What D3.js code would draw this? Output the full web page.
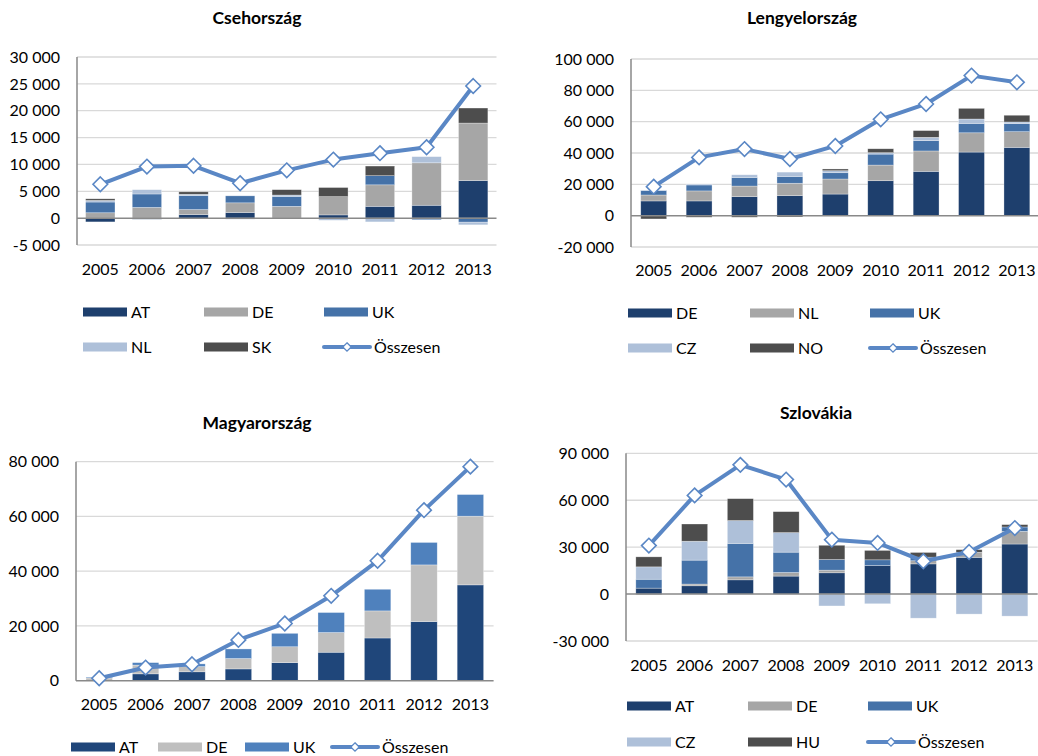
<!DOCTYPE html>
<html>
<head>
<meta charset="utf-8">
<script src="https://cdn.jsdelivr.net/npm/d3@7"></script>
<style>
  body { margin: 0; background: #fff; }
  svg text { font-family: Lato, "Noto Sans", sans-serif; fill: #000; }
</style>
</head>
<body>
<svg id="chart" width="1038" height="756"></svg>
<script>
// évek
const years = ["2005", "2006", "2007", "2008", "2009", "2010", "2011", "2012", "2013"];

// Csehország
const czKeys = ["AT", "DE", "UK", "NL", "SK"];
const czAT = [-700, -200, 650, 1050, 0, 600, 2200, 2400, 7000];
const czDE = [1000, 2000, 950, 1800, 2200, 3400, 4000, 7900, 10700];
const czUK = [2000, 2500, 2600, 1300, 1850, 0, 1700, -300, -750];
const czNL = [300, 800, 250, -200, 250, -400, -700, 1150, -500];
const czSK = [300, 0, 450, 0, 1000, 1700, 1800, 0, 2800];
const czTotal = [6300, 9600, 9750, 6500, 8900, 10900, 12100, 13200, 24600];
const czTicks = [-5000, 0, 5000, 10000, 15000, 20000, 25000, 30000];

// Lengyelország
const plKeys = ["DE", "NL", "UK", "CZ", "NO"];
const plDE = [9400, 9400, 12100, 12800, 13800, 22300, 28300, 40600, 43600];
const plNL = [3800, 6400, 6800, 7900, 9600, 10000, 13000, 12300, 10000];
const plUK = [2800, 3800, 5500, 4300, 4000, 7000, 6600, 6000, 5100];
const plCZ = [400, 600, 1700, 2800, 1300, 900, 2100, 2800, 1100];
const plNO = [-2100, -1000, -1000, -800, 1100, 2500, 4300, 6800, 4300];
const plTotal = [18500, 37200, 42500, 36200, 44500, 61500, 71300, 89400, 85100];
const plTicks = [-20000, 0, 20000, 40000, 60000, 80000, 100000];

// Magyarország
const huKeys = ["AT", "DE", "UK"];
const huAT = [0, 2500, 3250, 4300, 6600, 10400, 15600, 21600, 35000];
const huDE = [1000, 3200, 1900, 3800, 5800, 7200, 9900, 20700, 25100];
const huUK = [300, 900, 1000, 3500, 4900, 7300, 7900, 8200, 7900];
const huTotal = [900, 4800, 6000, 14900, 20900, 31000, 43800, 62300, 78200];
const huTicks = [0, 20000, 40000, 60000, 80000];

// Szlovákia
const skKeys = ["AT", "DE", "UK", "CZ", "HU"];
const skAT = [3800, 5300, 9100, 11500, 13600, 18300, 19300, 23500, 32000];
const skDE = [-600, 1100, 1900, 2300, 1700, 0, 2000, 3200, 8100];
const skUK = [5700, 15300, 21400, 13000, 6800, 3600, 2300, 0, 2800];
const skCZ = [7900, 12100, 14600, 12500, -7600, -6200, -15400, -12800, -14100];
const skHU = [6400, 11000, 14000, 13400, 9100, 6000, 3000, 1700, 1500];
const skTotal = [31000, 63100, 82600, 73200, 34800, 32700, 21000, 26900, 42200];
const skTicks = [-30000, 0, 30000, 60000, 90000];

const totalLabel = "Összesen";
const navy = "#1e3f6d", gray = "#a6a6a6", blue = "#4572a8", light = "#aec0d9", dark = "#4d4d4d";
const lineColor = "#5a87c5";

const fmt = d3.formatLocale({ decimal: ",", thousands: " ", grouping: [3], currency: ["", ""], minus: "-" }).format(",d");

const svg = d3.select("#chart");

const diamond = r => `M0,${-r}L${r},0L0,${r}L${-r},0Z`;

function drawPanel(p) {
    const g = svg.append("g");

    const rows = years.map((y, i) => {
        const o = { year: y };
        p.keys.forEach((k, j) => o[k] = p.series[j][i]);
        return o;
    });
    const stacked = d3.stack().keys(p.keys).offset(d3.stackOffsetDiverging)(rows);

    const x = d3.scaleBand().domain(years).range([p.left, p.right])
        .paddingInner(p.pad).paddingOuter(p.pad / 2);
    const y = d3.scaleLinear().domain([p.ticks[0], p.ticks[p.ticks.length - 1]]).range([p.bottom, p.top]);

    // rácsvonalak
    g.append("g").selectAll("line").data(p.ticks.filter(t => t !== 0)).join("line")
        .attr("x1", p.left).attr("x2", p.right)
        .attr("y1", d => y(d)).attr("y2", d => y(d))
        .attr("stroke", "#d9d9d9").attr("stroke-width", 1.3);

    // y tengely feliratok
    g.append("g").selectAll("text").data(p.ticks).join("text")
        .attr("x", p.left - 17).attr("y", d => y(d))
        .attr("dy", "0.36em").attr("text-anchor", "end")
        .style("font-size", "16px")
        .text(d => fmt(d));

    // oszlopok
    g.append("g").selectAll("g").data(stacked).join("g")
        .attr("fill", (d, i) => p.colors[i])
        .selectAll("rect").data(d => d).join("rect")
        .attr("x", d => x(d.data.year))
        .attr("width", x.bandwidth())
        .attr("y", d => y(Math.max(d[0], d[1])))
        .attr("height", d => Math.abs(y(d[0]) - y(d[1])))
        .attr("stroke", "#fff").attr("stroke-width", 0.6).attr("stroke-opacity", 0.5);

    // tengelyek
    g.append("line").attr("x1", p.left).attr("x2", p.left)
        .attr("y1", p.top).attr("y2", p.bottom)
        .attr("stroke", "#898989").attr("stroke-width", 1.5);
    g.append("line").attr("x1", p.left).attr("x2", p.right)
        .attr("y1", y(0)).attr("y2", y(0))
        .attr("stroke", "#898989").attr("stroke-width", 1.5);

    // x feliratok
    g.append("g").selectAll("text").data(years).join("text")
        .attr("x", d => x(d) + x.bandwidth() / 2).attr("y", p.xLabelY)
        .attr("dy", "0.36em").attr("text-anchor", "middle")
        .style("font-size", "16px")
        .text(d => d);

    // összesen vonal
    const pts = years.map((yr, i) => [x(yr) + x.bandwidth() / 2, y(p.total[i])]);
    g.append("path").attr("d", d3.line()(pts))
        .attr("fill", "none").attr("stroke", lineColor).attr("stroke-width", 4)
        .attr("stroke-linejoin", "round");
    g.append("g").selectAll("path").data(pts).join("path")
        .attr("transform", d => `translate(${d[0]},${d[1]})`)
        .attr("d", diamond(7.3))
        .attr("fill", "#fff").attr("stroke", lineColor).attr("stroke-width", 1.6);

    // cím
    g.append("text").attr("x", p.titleX).attr("y", p.titleY)
        .attr("text-anchor", "middle").attr("dy", "0.36em")
        .style("font-size", "17.5px").style("font-weight", "bold")
        .text(p.title);

    // jelmagyarázat
    const items = p.keys.map((k, i) => ({ label: k, color: p.colors[i] }));
    items.push({ label: totalLabel, line: true });
    items.forEach((it, i) => {
        const lx = p.legX[i % p.legCols];
        const ly = p.legY[Math.floor(i / p.legCols)];
        if (it.line) {
            g.append("line").attr("x1", lx).attr("x2", lx + 46)
                .attr("y1", ly).attr("y2", ly)
                .attr("stroke", lineColor).attr("stroke-width", 4).attr("stroke-linecap", "round");
            g.append("path").attr("transform", `translate(${lx + 23},${ly})`)
                .attr("d", diamond(4.2))
                .attr("fill", "#fff").attr("stroke", lineColor).attr("stroke-width", 1.3);
            g.append("text").attr("x", lx + 50).attr("y", ly).attr("dy", "0.36em")
                .style("font-size", "16px").text(it.label);
        } else {
            g.append("rect").attr("x", lx).attr("y", ly - 4.5)
                .attr("width", 44).attr("height", 9).attr("fill", it.color);
            g.append("text").attr("x", lx + 48).attr("y", ly).attr("dy", "0.36em")
                .style("font-size", "16px").text(it.label);
        }
    });
}

drawPanel({
    title: "Csehország", titleX: 257, titleY: 18,
    keys: czKeys, series: [czAT, czDE, czUK, czNL, czSK], total: czTotal,
    colors: [navy, gray, blue, light, dark], ticks: czTicks,
    left: 77, right: 496.5, top: 57, bottom: 245, pad: 0.37, xLabelY: 269,
    legX: [83, 204, 324], legY: [312, 347], legCols: 3
});

drawPanel({
    title: "Lengyelország", titleX: 802, titleY: 18,
    keys: plKeys, series: [plDE, plNL, plUK, plCZ, plNO], total: plTotal,
    colors: [navy, gray, blue, light, dark], ticks: plTicks,
    left: 631, right: 1039.6, top: 59, bottom: 247, pad: 0.43, xLabelY: 270,
    legX: [628, 750, 870], legY: [313, 348], legCols: 3
});

drawPanel({
    title: "Magyarország", titleX: 257, titleY: 423,
    keys: huKeys, series: [huAT, huDE, huUK], total: huTotal,
    colors: ["#1f467a", "#bfbfbf", "#4f81bd"], ticks: huTicks,
    left: 76, right: 493.6, top: 461.7, bottom: 680.7, pad: 0.43, xLabelY: 704,
    legX: [71, 158, 245, 332], legY: [747], legCols: 4
});

drawPanel({
    title: "Szlovákia", titleX: 816, titleY: 413,
    keys: skKeys, series: [skAT, skDE, skUK, skCZ, skHU], total: skTotal,
    colors: [navy, gray, blue, light, dark], ticks: skTicks,
    left: 626, right: 1037.7, top: 453.3, bottom: 641, pad: 0.43, xLabelY: 665,
    legX: [627, 748, 868], legY: [706, 742], legCols: 3
});
</script>
</body>
</html>
